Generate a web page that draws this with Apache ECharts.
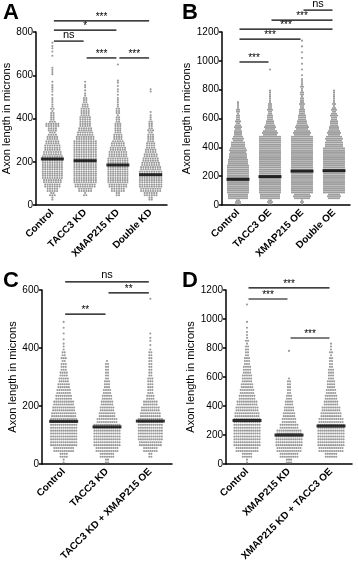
<!DOCTYPE html>
<html><head><meta charset="utf-8">
<script src="https://cdn.jsdelivr.net/npm/echarts@6/dist/echarts.min.js"></script>
<style>html,body{margin:0;padding:0;background:#fff}#c{width:358px;height:565px}</style>
</head><body><div id="c"></div>
<script>
// ---------- DATA ----------
const catsA = ['Control', 'TACC3 KD', 'XMAP215 KD', 'Double KD'];
const catsB = ['Control', 'TACC3 OE', 'XMAP215 OE', 'Double OE'];
const catsC = ['Control', 'TACC3 KD', 'TACC3 KD + XMAP215 OE'];
const catsD = ['Control', 'XMAP215 KD', 'XMAP215 KD + TACC3 OE'];

// per-bin counts of axons (bin widths in microns below), starting at 0
const binA = 20, binB = 40, binC = 20, binD = 40;
const countsA_control = [0,2,5,10,14,16,18,18,18,18,18,17,15,14,12,10,7,8,12,5,4,3,3,2,2,1,2,2,1,0,2,2,0,0,1,1,2,1];
const countsA_tacc3  = [0,0,3,12,18,20,20,20,20,20,20,20,20,20,20,16,14,12,10,10,9,8,7,5,4,2,1,2,1];
const countsA_xmap   = [0,0,4,12,16,18,18,18,18,18,18,16,15,13,11,8,7,6,6,4,3,4,3,2,2,1,2,1,2,0,0,0,1];
const countsA_double = [0,4,12,18,20,20,20,20,18,16,14,12,10,8,7,6,5,5,4,3,2,1,0,0,0,0,2];

const countsB_control = [8,30,33,33,33,33,33,30,27,25,21,16,12,10,7,5,5,3];
const countsB_tacc3   = [7,30,33,33,33,33,33,33,33,33,33,33,22,16,11,8,7,5,3,3,0,0,0,1];
const countsB_xmap    = [4,25,33,33,33,33,33,33,33,33,33,33,25,19,14,11,8,7,5,5,4,3,1,1,1,1,1,1,1];
const countsB_double  = [0,19,33,33,33,33,33,33,33,33,27,25,19,14,11,10,7,4,3,3];

const countsC_control = [2,8,20,26,26,26,26,26,24,22,20,16,14,12,10,8,6,5,5,3,2,1,1,1,1];
const countsC_tacc3   = [4,14,22,26,26,26,26,20,16,14,12,10,8,6,5,4,4,3];
const countsC_combo   = [0,4,14,22,24,24,24,24,20,18,14,8,6,6,6,4,4,4,4,3,1,2,1,0,0,0,0,0,1];

const countsD_control = [2,10,22,26,26,26,26,26,24,22,20,16,14,12,10,9,8,6,5,4,3,3,2,1,1,0,0,1];
const countsD_xmap    = [6,18,24,26,26,24,18,14,12,10,8,6,4,4,3,0,0,0,0,1];
const countsD_combo   = [0,12,24,26,26,26,26,24,20,18,14,12,10,8,7,6,5,4,3,3,2];

const mediansA = [213, 205, 185, 140];
const mediansB = [178, 197, 235, 238];
const mediansC = [147, 128, 148];
const mediansD = [300, 200, 262];

const yTicksMax = [800, 1200, 600, 1200];

// significance brackets: [fromCategory, toCategory, height (microns), label]
const sigA = [[0,3,851,'***'],[0,2,809,'*'],[0,1,758,'ns'],[1,2,680,'***'],[2,3,680,'***']];
const sigB = [[0,1,992,'***'],[0,2,1151,'***'],[0,3,1220,'***'],[1,3,1283,'***'],[2,3,1352,'ns']];
const sigC = [[0,2,628,'ns'],[1,2,590,'**'],[0,1,517,'**']];
const sigD = [[0,2,1214,'***'],[0,1,1138,'***'],[1,2,869,'***']];

// ---------- LAYOUT ----------
const FONT = '"Liberation Sans", Arial, sans-serif';
const panels = [
  {cats: catsA, counts: [countsA_control,countsA_tacc3,countsA_xmap,countsA_double], bin: binA, med: mediansA, sig: sigA,
   grid: {left: 35, top: 32, width: 132, height: 173}, rows: 2, pitch: 2.4, medW: 23, nameGap: 24, letter: 'A', lx: 3, ly: 2},
  {cats: catsB, counts: [countsB_control,countsB_tacc3,countsB_xmap,countsB_double], bin: binB, med: mediansB, sig: sigB,
   grid: {left: 222, top: 32, width: 128, height: 173}, rows: 3, pitch: 2.0, medW: 23, nameGap: 30, letter: 'B', lx: 182, ly: 2},
  {cats: catsC, counts: [countsC_control,countsC_tacc3,countsC_combo], bin: binC, med: mediansC, sig: sigC,
   grid: {left: 42, top: 290, width: 130, height: 174}, rows: 2, pitch: 2.1, medW: 29, nameGap: 24, letter: 'C', lx: 3, ly: 270},
  {cats: catsD, counts: [countsD_control,countsD_xmap,countsD_combo], bin: binD, med: mediansD, sig: sigD,
   grid: {left: 226, top: 290, width: 126, height: 174}, rows: 2, pitch: 2.1, medW: 29, nameGap: 30, letter: 'D', lx: 182, ly: 270}
];

function swarm(counts, bin, ci, pitchX, rowsPerBin) {
  const pts = [];
  counts.forEach((n, b) => {
    if (!n) return;
    const rows = Math.min(rowsPerBin, n);
    let rem = n;
    for (let r = 0; r < rows; r++) {
      const k = Math.round(rem / (rows - r));
      rem -= k;
      const y = b * bin + (r + 0.5) * bin / rows;
      for (let j = 0; j < k; j++) pts.push([ci + (j - (k - 1) / 2) * pitchX, y]);
    }
  });
  return pts;
}

const option = {animation: false, grid: [], xAxis: [], yAxis: [], series: []};
panels.forEach((p, pi) => {
  const n = p.cats.length;
  option.grid.push(Object.assign({containLabel: false}, p.grid));
  option.xAxis.push({
    type: 'category', gridIndex: pi, data: p.cats, boundaryGap: true,
    axisLine: {onZero: false, lineStyle: {color: '#000', width: 1.5}},
    axisTick: {alignWithLabel: true, length: 4, lineStyle: {color: '#000', width: 1.5}},
    axisLabel: {rotate: 45, interval: 0, fontSize: 10, fontWeight: 'bold', color: '#000', fontFamily: FONT, margin: 6},
    splitLine: {show: false}
  });
  option.xAxis.push({type: 'value', gridIndex: pi, min: -0.5, max: n - 0.5, show: false,
    axisLine: {onZero: false}, splitLine: {show: false}});
  option.yAxis.push({
    type: 'value', gridIndex: pi, min: 0, max: yTicksMax[pi], interval: 200,
    axisLine: {show: true, onZero: false, lineStyle: {color: '#000', width: 1.5}},
    axisTick: {show: true, length: 3, lineStyle: {color: '#000', width: 1.5}},
    axisLabel: {fontSize: 10, color: '#000', fontFamily: FONT, margin: 3, formatter: v => String(v)},
    splitLine: {show: false},
    name: 'Axon length in microns', nameLocation: 'middle', nameGap: p.nameGap,
    nameTextStyle: {fontSize: 11, color: '#000', fontFamily: FONT}
  });
  const bandPx = p.grid.width / n;
  const pitchX = p.pitch / bandPx;
  p.counts.forEach((c, ci) => {
    option.series.push({
      type: 'scatter', xAxisIndex: 2 * pi + 1, yAxisIndex: pi, silent: true,
      symbol: 'circle', symbolSize: 2.1, itemStyle: {color: '#808080'},
      data: swarm(c, p.bin, ci, pitchX, p.rows)
    });
  });
  option.series.push({
    type: 'scatter', xAxisIndex: 2 * pi + 1, yAxisIndex: pi, silent: true, z: 5,
    symbol: 'rect', symbolSize: [p.medW, 3], itemStyle: {color: '#000'},
    data: p.med.map((m, i) => [i, m])
  });
});

const chart = echarts.init(document.getElementById('c'), null, {renderer: 'canvas'});
chart.setOption(option);

// significance brackets and panel letters
const graphics = [];
panels.forEach((p, pi) => {
  p.sig.forEach(s => {
    const a = chart.convertToPixel({xAxisIndex: 2 * pi + 1, yAxisIndex: pi}, [s[0], s[2]]);
    const b = chart.convertToPixel({xAxisIndex: 2 * pi + 1, yAxisIndex: pi}, [s[1], s[2]]);
    const gap = 1.5;
    graphics.push({type: 'line', silent: true,
      shape: {x1: a[0] + gap, y1: a[1], x2: b[0] - gap, y2: b[1]},
      style: {stroke: '#000', lineWidth: 1.2}});
    const isNs = s[3] === 'ns';
    graphics.push({type: 'text', silent: true,
      x: (a[0] + b[0]) / 2, y: a[1] - (isNs ? 1 : -1),
      style: {text: s[3], fontSize: isNs ? 11 : 10, fontFamily: FONT, fill: '#000',
        textAlign: 'center', textVerticalAlign: 'bottom'}});
  });
  graphics.push({type: 'text', silent: true, x: p.lx, y: p.ly,
    style: {text: p.letter, fontSize: 22, fontWeight: 'bold', fontFamily: FONT, fill: '#000',
      textAlign: 'left', textVerticalAlign: 'top'}});
});
chart.setOption({graphic: graphics});
</script></body></html>
